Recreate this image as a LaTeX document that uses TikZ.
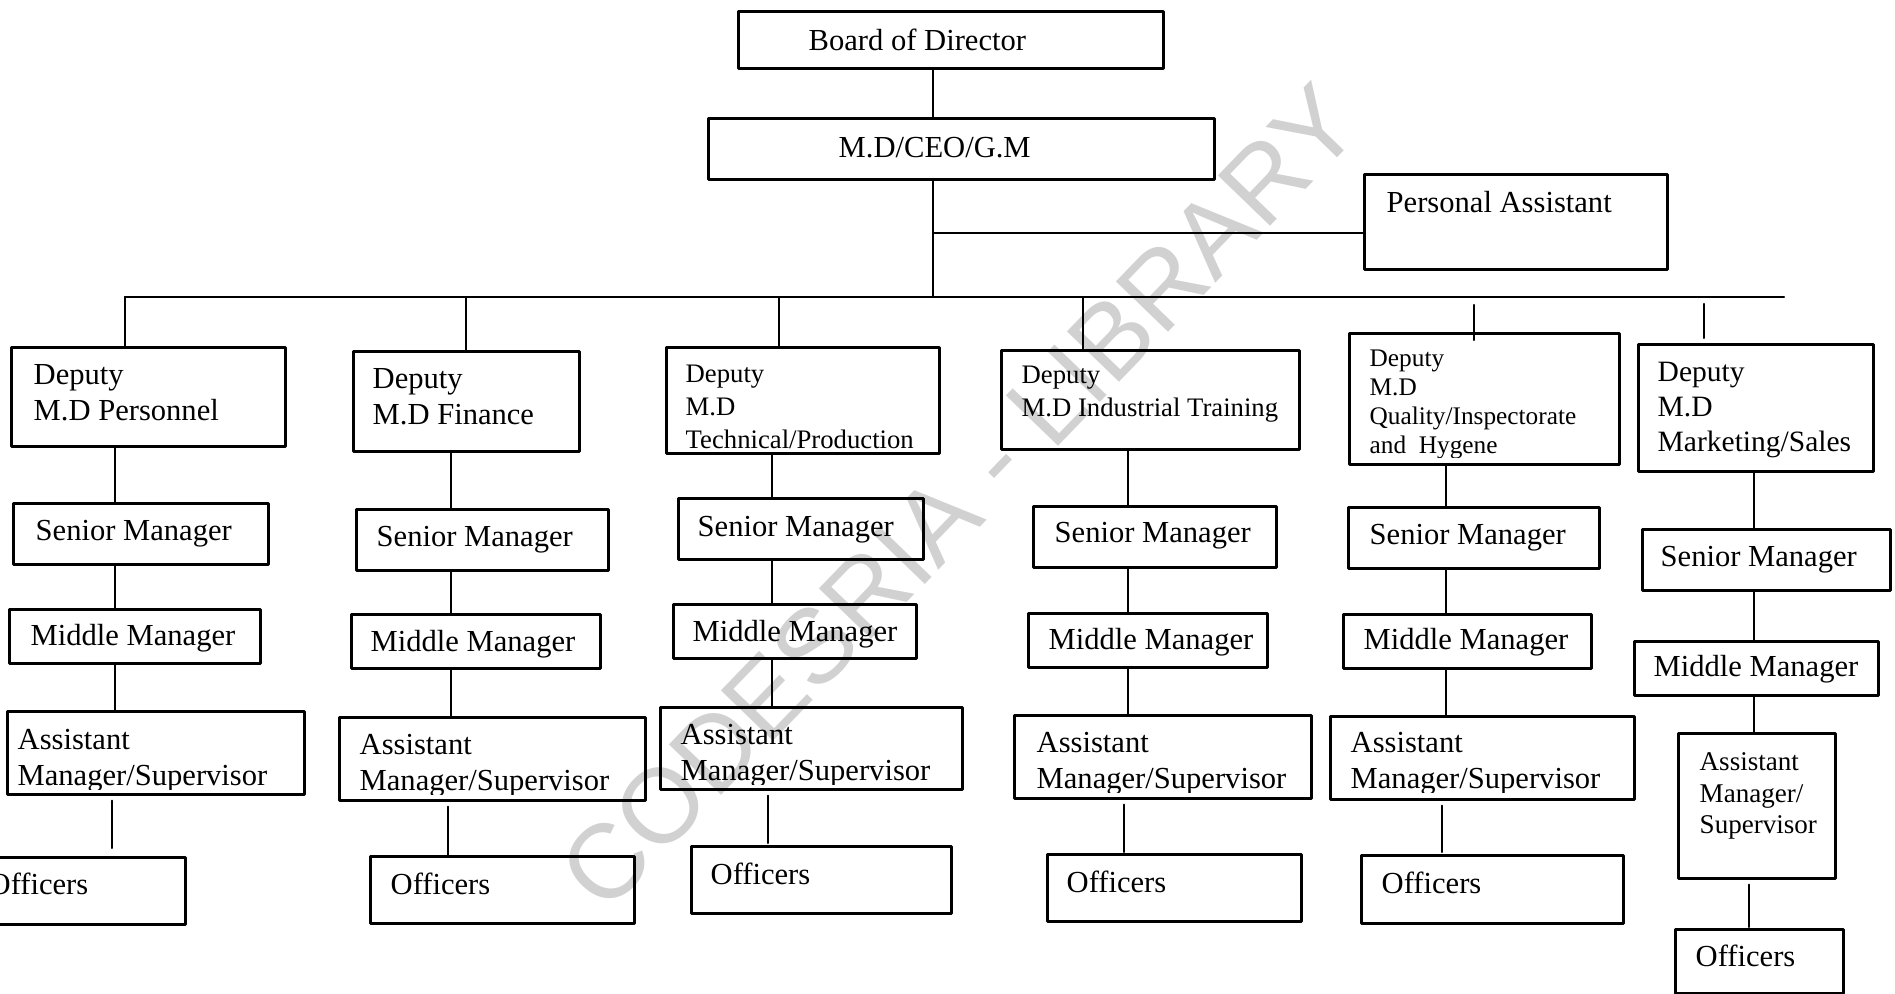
\documentclass[tikz,border=0pt]{standalone}
\usepackage{fontspec}
\setmainfont{Liberation Serif}
\setsansfont{Liberation Sans}
\usetikzlibrary{calc}

\tikzset{
  rolebox/.style 2 args={draw, line width=0.75pt, anchor=north west, inner sep=0pt,
    minimum width=#1cm, minimum height=#2cm},
  % base of a text node is the baseline of its last line
  lbl/.style={anchor=base west, inner sep=0pt, align=left, font=\fontsize{8.7}{10.24}\selectfont},
  conn/.style={line width=0.6pt},
}

\begin{document}
\begin{tikzpicture}[line cap=round,line join=round,x=1cm,y=1cm]
\useasboundingbox (0,0) rectangle (18.95,-9.94);

% stamp behind the chart
\node[rotate=46, text=black!18, font=\sffamily\fontsize{30}{36}\selectfont] (stamp) at (9.59,-4.97) {CODESRIA - LIBRARY};

% top of the chart
\node[rolebox={4.25}{0.57}] (board) at (7.37,-0.10) {};
\node[lbl] (board-t) at (8.08,-0.51) {Board of Director};
\node[rolebox={5.06}{0.61}] (md) at (7.07,-1.17) {};
\node[lbl] (md-t) at (8.38,-1.58) {M.D/CEO/G.M};
\node[rolebox={3.03}{0.95}] (pa) at (13.63,-1.73) {};
\node[lbl] (pa-t) at (13.86,-2.13) {Personal Assistant};

\coordinate (trunk) at (9.33,-2.97);
\coordinate (paJoin) at (9.33,-2.33);
\coordinate (busL) at (1.25,-2.97);
\coordinate (busR) at (17.84,-2.97);
\draw[conn] (board.south -| trunk) -- (md.north -| trunk);
\draw[conn] (md.south -| trunk) -- (trunk);
\draw[conn] (paJoin) -- (paJoin -| pa.west);
\draw[conn] (busL) -- (busR);

% deputies
\node[rolebox={2.74}{0.99}] (d1) at (0.10,-3.46) {};
\node[lbl] (d1-t) at (0.33,-4.21) {Deputy\\M.D Personnel};
\node[rolebox={2.26}{1.00}] (d2) at (3.52,-3.50) {};
\node[lbl] (d2-t) at (3.72,-4.25) {Deputy\\M.D Finance};
\node[rolebox={2.73}{1.06}] (d3) at (6.65,-3.46) {};
\begin{scope}
\clip (d3.north west) rectangle ([yshift=0.03cm]d3.south east);
\node[lbl, font=\fontsize{7.6}{9.4}\selectfont] (d3-t) at (6.85,-4.49) {Deputy\\M.D\\Technical/Production};
\end{scope}
\node[rolebox={2.98}{0.99}] (d4) at (10.00,-3.49) {};
\node[lbl, font=\fontsize{7.6}{9.4}\selectfont] (d4-t) at (10.21,-4.17) {Deputy\\M.D Industrial Training};
\node[rolebox={2.70}{1.31}] (d5) at (13.48,-3.32) {};
\begin{scope}
\clip (d5.north west) rectangle ([yshift=0.08cm]d5.south east);
\node[lbl, font=\fontsize{7.2}{8.34}\selectfont] (d5-t) at (13.69,-4.54) {Deputy\\M.D\\Quality/Inspectorate\\and\ \ Hygene};
\end{scope}
\node[rolebox={2.35}{1.27}] (d6) at (16.37,-3.43) {};
\node[lbl, font=\fontsize{8.4}{9.96}\selectfont] (d6-t) at (16.57,-4.52) {Deputy\\M.D\\Marketing/Sales};

\coordinate (j3) at (7.79,-2.97);
\coordinate (j4) at (10.83,-2.97);
\coordinate (j5) at (14.74,-3.05);
\coordinate (j6) at (17.04,-3.04);
\draw[conn] (busL) -- (busL |- d1.north);
\draw[conn] (d2.north |- busL) -- (d2.north);
\draw[conn] (j3) -- (j3 |- d3.north);
\draw[conn] (j4) -- (j4 |- d4.north);
\draw[conn] (j5) -- ($(j5 |- d5.north)+(0,-0.08)$);
\draw[conn] (j6) -- ($(j6 |- d6.north)+(0,0.05)$);

% senior managers: name/left/top/width/text x/baseline
\foreach \n/\lx/\ty/\w/\tx/\by in {1/0.12/5.02/2.55/0.35/5.41, 2/3.55/5.08/2.52/3.76/5.47,
  3/6.77/4.97/2.45/6.97/5.37, 4/10.32/5.05/2.43/10.54/5.43,
  5/13.47/5.06/2.51/13.69/5.45, 6/16.41/5.28/2.48/16.60/5.67}
{
  \node[rolebox={\w}{0.61}] (s\n) at (\lx,-\ty) {};
  \node[lbl] (s\n-t) at (\tx,-\by) {Senior Manager};
}

% middle managers
\foreach \n/\lx/\ty/\w/\tx/\by in {1/0.08/6.08/2.51/0.30/6.46, 2/3.50/6.13/2.49/3.70/6.52,
  3/6.72/6.03/2.43/6.92/6.42, 4/10.27/6.12/2.39/10.48/6.50,
  5/13.42/6.13/2.48/13.63/6.50, 6/16.33/6.40/2.44/16.53/6.77}
{
  \node[rolebox={\w}{0.54}] (m\n) at (\lx,-\ty) {};
  \node[lbl] (m\n-t) at (\tx,-\by) {Middle Manager};
}

% assistant managers, second line cut off by the box
\foreach \n/\lx/\ty/\w/\h/\tx/\by/\cut in {1/0.06/7.10/2.97/0.83/0.17/7.86/0.065,
  2/3.38/7.16/3.06/0.83/3.59/7.91/0.075, 3/6.59/7.06/3.02/0.82/6.80/7.81/0.065,
  4/10.13/7.14/2.97/0.83/10.36/7.89/0.075, 5/13.29/7.15/3.04/0.83/13.50/7.89/0.085}
{
  \node[rolebox={\w}{\h}] (a\n) at (\lx,-\ty) {};
  \begin{scope}
    \clip (a\n.north west) rectangle ([yshift=\cut cm]a\n.south east);
    \node[lbl] (a\n-t) at (\tx,-\by) {Assistant\\Manager/Supervisor};
  \end{scope}
}
\node[rolebox={1.57}{1.45}] (a6) at (16.77,-7.32) {};
\node[lbl, font=\fontsize{7.7}{9.1}\selectfont] (a6-t) at (16.99,-8.34) {Assistant\\Manager/\\Supervisor};

% officers
\foreach \n/\lx/\ty/\w/\h/\tx/\by in {1/-0.20/8.56/2.04/0.67/-0.12/8.95,
  2/3.69/8.55/2.64/0.67/3.90/8.95, 3/6.90/8.45/2.60/0.67/7.10/8.85,
  4/10.46/8.53/2.54/0.67/10.66/8.93, 5/13.60/8.54/2.62/0.68/13.81/8.94,
  6/16.74/9.28/1.68/0.645/16.95/9.67}
{
  \node[rolebox={\w}{\h}] (o\n) at (\lx,-\ty) {};
  \node[lbl] (o\n-t) at (\tx,-\by) {Officers};
}

% column links: name/x/x of the lower link/gap above officers
\foreach \n/\x/\xo/\g in {1/1.15/1.12/0.08, 2/4.51/4.48/0.0, 3/7.72/7.68/0.02,
  4/11.28/11.24/0.01, 5/14.46/14.42/0.02, 6/17.54/17.49/0.01}
{
  \coordinate (c\n) at (\x,0);
  \coordinate (co\n) at (\xo,0);
  \draw[conn] (d\n.south -| c\n) -- (s\n.north -| c\n);
  \draw[conn] (s\n.south -| c\n) -- (m\n.north -| c\n);
  \draw[conn] (m\n.south -| c\n) -- (a\n.north -| c\n);
  \draw[conn] ($(a\n.south -| co\n)+(0,-0.05)$) -- ($(o\n.north -| co\n)+(0,\g)$);
}
\end{tikzpicture}
\end{document}
